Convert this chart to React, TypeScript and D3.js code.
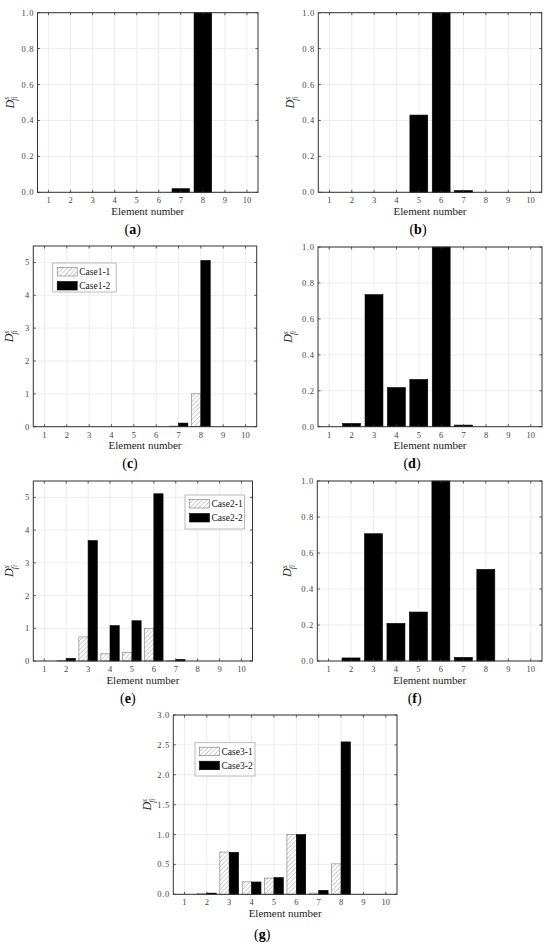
import React from "react";
import * as d3 from "d3";

const elements = [1, 2, 3, 4, 5, 6, 7, 8, 9, 10];

const aValues = [0, 0, 0, 0, 0, 0, 0.02, 1.0, 0, 0];
const bValues = [0, 0, 0, 0, 0.43, 1.0, 0.01, 0, 0, 0];
const case1_1 = [0, 0, 0, 0, 0, 0, 0.02, 1.0, 0, 0];
const case1_2 = [0, 0, 0, 0, 0, 0, 0.11, 5.06, 0, 0];
const dValues = [0, 0.018, 0.735, 0.218, 0.263, 1.0, 0.009, 0, 0, 0];
const case2_1 = [0, 0.018, 0.735, 0.218, 0.263, 1.0, 0.009, 0, 0, 0];
const case2_2 = [0, 0.08, 3.68, 1.08, 1.23, 5.11, 0.05, 0, 0, 0];
const fValues = [0, 0.017, 0.707, 0.209, 0.272, 1.0, 0.02, 0.509, 0, 0];
const case3_1 = [0, 0.017, 0.707, 0.209, 0.272, 1.0, 0.02, 0.509, 0, 0];
const case3_2 = [0, 0.02, 0.703, 0.206, 0.279, 1.0, 0.067, 2.55, 0, 0];

const yTicksUnit = [0, 0.2, 0.4, 0.6, 0.8, 1.0];
const yTicksLarge = [0, 1, 2, 3, 4, 5];
const yTicksG = [0, 0.5, 1.0, 1.5, 2.0, 2.5, 3.0];

const legend1 = ["Case1-1", "Case1-2"];
const legend2 = ["Case2-1", "Case2-2"];
const legend3 = ["Case3-1", "Case3-2"];

const FONT = "Liberation Serif, DejaVu Serif, serif";

type PanelProps = {
  frame: { left: number; right: number; top: number; bottom: number };
  yMax: number;
  yTicks: number[];
  tickFmt: (v: number) => string;
  single?: number[];
  hatched?: number[];
  solid?: number[];
  legend?: string[];
  legendPos?: { x: number; y: number; w: number; h: number };
  label: string;
  labelDx?: number;
  labelDy?: number;
  yLabelOffset: number;
};

function Panel(p: PanelProps) {
  const { left, right, top, bottom } = p.frame;
  const x = d3.scaleLinear().domain([0.5, 10.5]).range([left, right]);
  const y = d3.scaleLinear().domain([0, p.yMax]).range([bottom, top]);
  const unit = x(1) - x(0);
  const tickLen = 2.5;
  const gridColor = "#e8e8e8";
  const axisColor = "#333";
  const bw = 0.42;
  const ts = { fontFamily: FONT };
  return (
    <g>
      {elements.map((e) => (
        <line key={"gx" + e} x1={x(e)} x2={x(e)} y1={top} y2={bottom} stroke={gridColor} strokeWidth={0.8} />
      ))}
      {p.yTicks.map((t) => (
        <line key={"gy" + t} x1={left} x2={right} y1={y(t)} y2={y(t)} stroke={gridColor} strokeWidth={0.8} />
      ))}
      {p.single &&
        p.single.map((v, i) =>
          v > 0 ? (
            <rect
              key={"s" + i}
              x={x(elements[i] - 0.4)}
              width={unit * 0.8}
              y={y(v)}
              height={y(0) - y(v)}
              fill="#000"
              stroke="#000"
              strokeWidth={0.6}
            />
          ) : null
        )}
      {p.hatched &&
        p.hatched.map((v, i) =>
          v > 0 ? (
            <rect
              key={"h" + i}
              x={x(elements[i] - bw)}
              width={unit * bw}
              y={y(v)}
              height={y(0) - y(v)}
              fill="url(#hatch)"
              stroke="#777"
              strokeWidth={0.6}
            />
          ) : null
        )}
      {p.solid &&
        p.solid.map((v, i) =>
          v > 0 ? (
            <rect
              key={"b" + i}
              x={x(elements[i])}
              width={unit * bw}
              y={y(v)}
              height={y(0) - y(v)}
              fill="#000"
              stroke="#000"
              strokeWidth={0.6}
            />
          ) : null
        )}
      <rect x={left} y={top} width={right - left} height={bottom - top} fill="none" stroke={axisColor} strokeWidth={1} />
      {elements.map((e) => (
        <g key={"tx" + e}>
          <line x1={x(e)} x2={x(e)} y1={bottom} y2={bottom - tickLen} stroke={axisColor} strokeWidth={0.8} />
          <line x1={x(e)} x2={x(e)} y1={top} y2={top + tickLen} stroke={axisColor} strokeWidth={0.8} />
          <text x={x(e)} y={bottom + 11} fontSize={8.5} fill="#444" textAnchor="middle" style={ts}>
            {e}
          </text>
        </g>
      ))}
      {p.yTicks.map((t) => (
        <g key={"ty" + t}>
          <line x1={left} x2={left + tickLen} y1={y(t)} y2={y(t)} stroke={axisColor} strokeWidth={0.8} />
          <line x1={right} x2={right - tickLen} y1={y(t)} y2={y(t)} stroke={axisColor} strokeWidth={0.8} />
          <text x={left - 3.5} y={y(t) + 3} fontSize={8.5} fill="#444" textAnchor="end" style={ts} letterSpacing={0.6}>
            {p.tickFmt(t)}
          </text>
        </g>
      ))}
      <text x={(left + right) / 2} y={bottom + 22.5} fontSize={11} textAnchor="middle" style={ts} fill="#222">
        Element number
      </text>
      <text
        transform={`translate(${left - p.yLabelOffset},${(top + bottom) / 2}) rotate(-90)`}
        fontSize={12}
        textAnchor="middle"
        style={ts}
        fill="#222"
        fontStyle="italic"
      >
        <tspan>D</tspan>
        <tspan fontSize={7.5} dy={-4.5}>
          s
        </tspan>
        <tspan fontSize={7.5} dx={-3.8} dy={8}>
          fi
        </tspan>
      </text>
      {p.legend && p.legendPos && (
        <g>
          <rect
            x={p.legendPos.x}
            y={p.legendPos.y}
            width={p.legendPos.w}
            height={p.legendPos.h}
            fill="#fff"
            stroke="#aaa"
            strokeWidth={0.8}
          />
          <rect
            x={p.legendPos.x + 4.5}
            y={p.legendPos.y + 4.5}
            width={20}
            height={8.5}
            fill="url(#hatch)"
            stroke="#777"
            strokeWidth={0.6}
          />
          <rect
            x={p.legendPos.x + 4.5}
            y={p.legendPos.y + 18.5}
            width={20}
            height={8.5}
            fill="#000"
            stroke="#000"
            strokeWidth={0.6}
          />
          <text x={p.legendPos.x + 26.5} y={p.legendPos.y + 12.2} fontSize={9.5} style={ts} fill="#111">
            {p.legend[0]}
          </text>
          <text x={p.legendPos.x + 26.5} y={p.legendPos.y + 26.2} fontSize={9.5} style={ts} fill="#111">
            {p.legend[1]}
          </text>
        </g>
      )}
      <text
        x={(left + right) / 2 + (p.labelDx ?? -15)}
        y={bottom + (p.labelDy ?? 42)}
        fontSize={14}
        textAnchor="middle"
        style={ts}
        fill="#000"
      >
        (<tspan fontWeight="bold">{p.label}</tspan>)
      </text>
    </g>
  );
}

const fmt1 = d3.format(".1f");
const fmt0 = d3.format("d");

export default function App() {
  return (
    <svg
      width={550}
      height={947}
      style={{ position: "absolute", left: 0, top: 0, background: "#fff", fontFamily: FONT }}
    >
      <defs>
        <pattern id="hatch" patternUnits="userSpaceOnUse" width={3.2} height={3.2} patternTransform="rotate(45)">
          <rect width={3.2} height={3.2} fill="#fff" />
          <line x1={0} y1={0} x2={0} y2={3.2} stroke="#999" strokeWidth={0.9} />
        </pattern>
      </defs>
      <rect width={550} height={947} fill="#fff" />
      <Panel
        frame={{ left: 37.5, right: 258, top: 12.7, bottom: 192.3 }}
        yMax={1}
        yTicks={yTicksUnit}
        tickFmt={fmt1}
        single={aValues}
        label="a"
        yLabelOffset={24}
      />
      <Panel
        frame={{ left: 318.3, right: 541.7, top: 12.7, bottom: 192.3 }}
        yMax={1}
        yTicks={yTicksUnit}
        tickFmt={fmt1}
        single={bValues}
        label="b"
        labelDx={-12}
        yLabelOffset={24}
      />
      <Panel
        frame={{ left: 33.3, right: 256.7, top: 246, bottom: 426.7 }}
        yMax={5.5}
        yTicks={yTicksLarge}
        tickFmt={fmt0}
        hatched={case1_1}
        solid={case1_2}
        legend={legend1}
        legendPos={{ x: 52.7, y: 263, w: 63.5, h: 29 }}
        label="c"
        yLabelOffset={20}
        labelDy={41}
      />
      <Panel
        frame={{ left: 318, right: 542, top: 247, bottom: 426.7 }}
        yMax={1}
        yTicks={yTicksUnit}
        tickFmt={fmt1}
        single={dValues}
        label="d"
        labelDx={-18}
        yLabelOffset={26}
        labelDy={41}
      />
      <Panel
        frame={{ left: 33.3, right: 252.5, top: 481, bottom: 661 }}
        yMax={5.5}
        yTicks={yTicksLarge}
        tickFmt={fmt0}
        hatched={case2_1}
        solid={case2_2}
        legend={legend2}
        legendPos={{ x: 185, y: 495, w: 59.5, h: 34 }}
        label="e"
        yLabelOffset={20}
      />
      <Panel
        frame={{ left: 317.3, right: 542, top: 481, bottom: 661 }}
        yMax={1}
        yTicks={yTicksUnit}
        tickFmt={fmt1}
        single={fValues}
        label="f"
        yLabelOffset={26}
      />
      <Panel
        frame={{ left: 173.3, right: 397, top: 715, bottom: 894.3 }}
        yMax={3}
        yTicks={yTicksG}
        tickFmt={fmt1}
        hatched={case3_1}
        solid={case3_2}
        legend={legend3}
        legendPos={{ x: 195, y: 742.7, w: 60, h: 33.3 }}
        label="g"
        labelDx={-23}
        labelDy={45}
        yLabelOffset={22}
      />
    </svg>
  );
}
